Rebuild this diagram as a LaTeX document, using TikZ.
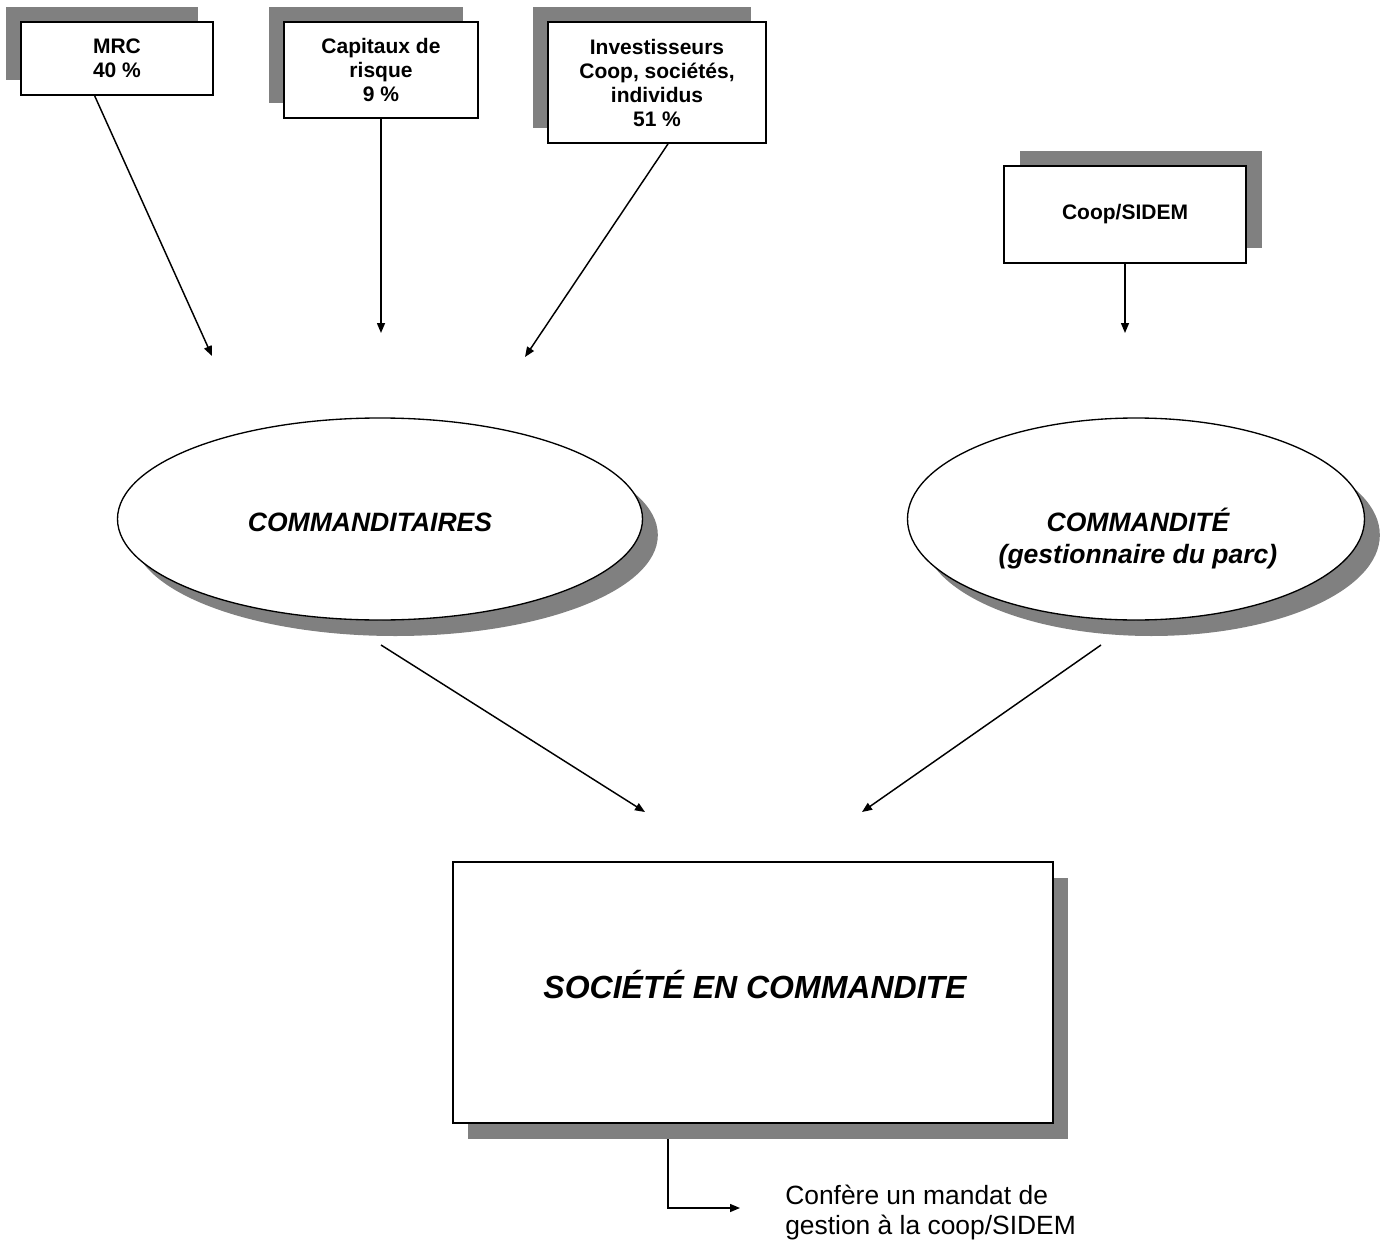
\documentclass[tikz,border=0pt]{standalone}
\usepackage{fontspec}
\setmainfont{Liberation Sans}
\usetikzlibrary{arrows.meta,shapes.geometric,shadows,calc}
\definecolor{shadowgray}{HTML}{808080}
\begin{document}
\begin{tikzpicture}[x=0.75pt,y=-0.75pt,
  conn/.style={line width=1.1pt,-{Triangle[length=7.5pt,width=6pt]}},
  smallbox/.style={draw, line width=1.4pt, fill=white, inner sep=0pt, align=center,
    font=\fontsize{15.75}{18}\selectfont\bfseries},
  shadowUL/.style={general shadow={fill=shadowgray, shadow xshift=-11.25pt, shadow yshift=11.25pt}},
  shadowUR/.style={general shadow={fill=shadowgray, shadow xshift=12pt, shadow yshift=11.25pt}},
  shadowLR/.style={general shadow={fill=shadowgray, shadow xshift=11.5pt, shadow yshift=-12pt}},
  oval/.style={ellipse, draw, line width=1pt, fill=white, inner sep=0pt, shadowLR},
  ovaltext/.style={align=center, font=\fontsize{19.9}{24}\selectfont\bfseries\itshape},
  bigbox/.style={draw, line width=1.4pt, fill=white, inner sep=0pt, shadowLR,
    font=\fontsize{24}{28}\selectfont\bfseries\itshape},
  note/.style={align=left, anchor=west, inner sep=0pt, font=\fontsize{19.8}{22.5}\selectfont}
]
\useasboundingbox (0,0) rectangle (1385,1245);

% top boxes
\node[smallbox, shadowUL, minimum width=144pt, minimum height=54.75pt] (mrc) at (117,58.5) {MRC\\40 \%};
\node[smallbox, shadowUL, minimum width=145.5pt, minimum height=72pt] (cap) at (381,70) {Capitaux de\\risque\\9 \%};
\node[smallbox, shadowUL, minimum width=163.5pt, minimum height=90.75pt] (inv) at (657,82.5) {Investisseurs\\Coop, sociétés,\\individus\\51 \%};
\node[smallbox, shadowUR, minimum width=181.5pt, minimum height=72.75pt] (coop) at (1125,214.5) {Coop/SIDEM};

% ellipses
\node[oval, minimum width=393.75pt, minimum height=151.5pt] (cmdtaires) at (380,519) {};
\node[ovaltext] (cmdtairesT) at (370,522) {COMMANDITAIRES};
\node[oval, minimum width=342.75pt, minimum height=151.5pt] (cmdte) at (1136,519) {};
\node[ovaltext] (cmdteT) at (1138,539) {COMMANDITÉ\\(gestionnaire du parc)};

% bottom box
\node[bigbox, minimum width=450pt, minimum height=195.75pt] (soc) at (753,992.5) {};
\node[font=\fontsize{24}{28}\selectfont\bfseries\itshape] (socT) at (755,985) {SOCIÉTÉ EN COMMANDITE};

% note
\node[note] (mandat) at (785,1213) {Confère un mandat de\\gestion à la coop/SIDEM};

% coordinates
\coordinate (mrcS) at ($(mrc.south west)!0.385!(mrc.south east)$);
\coordinate (invS) at ($(inv.south west)!0.55!(inv.south east)$);
\coordinate (e1) at (212,356);
\coordinate (e2) at (381,333);
\coordinate (e3) at (525,357);
\coordinate (e4) at (1125,333);
\coordinate (s5) at (381,645);
\coordinate (e5) at (645,812);
\coordinate (s6) at (1101,645);
\coordinate (e6) at (862,812);
\coordinate (s7) at (668,1139);
\coordinate (k7) at (668,1208);
\coordinate (e7) at (740,1208);

% connectors
\draw[conn] (mrcS) -- (e1);
\draw[conn] (cap.south) -- (e2);
\draw[conn] (invS) -- (e3);
\draw[conn] (coop.south) -- (e4);
\draw[conn] (s5) -- (e5);
\draw[conn] (s6) -- (e6);
\draw[conn] (s7) -- (k7) -- (e7);
\end{tikzpicture}
\end{document}
